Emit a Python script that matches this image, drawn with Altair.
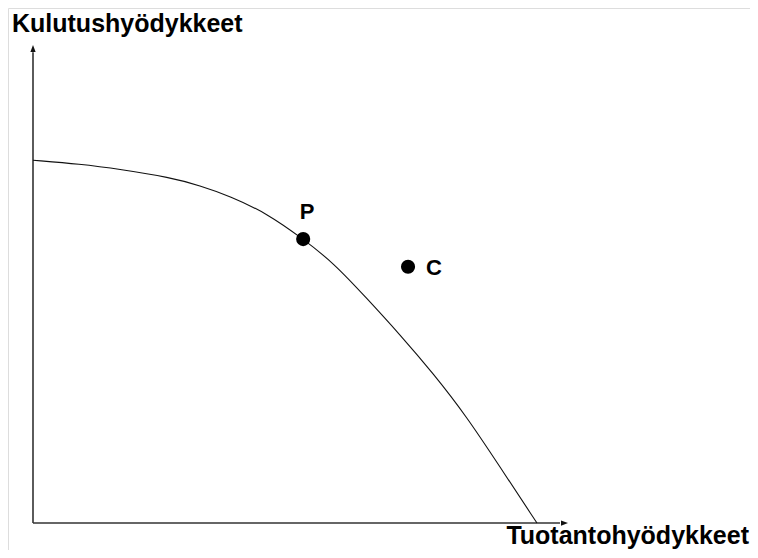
import altair as alt
import pandas as pd

# Production possibility frontier (data units 0..100 on both axes)
curve_x = [0, 8.8, 16.3, 25.6, 31.2, 36.8, 43.7, 50.5, 56.1, 62.4, 68.6, 74.8, 81.1, 87.3, 94.2]
curve_y = [75.9, 75.1, 74.0, 72.3, 70.6, 68.4, 64.8, 59.4, 54.5, 47.0, 39.4, 31.3, 22.2, 11.7, 0]

point_names = ["P", "C"]
point_x = [50.5, 70.1]
point_y = [59.4, 53.6]

axis_x_title = "Tuotantohyödykkeet"
axis_y_title = "Kulutushyödykkeet"
axis_end = 100

FONT = "Liberation Sans"

curve_df = pd.DataFrame({"x": curve_x, "y": curve_y})
pts_df = pd.DataFrame({"name": point_names, "x": point_x, "y": point_y})

xs = alt.Scale(domain=[0, 100], range=[25, 560])
ys = alt.Scale(domain=[0, 100], range=[515, 37])

X = lambda f="x": alt.X(f, type="quantitative", scale=xs, axis=None)
Y = lambda f="y": alt.Y(f, type="quantitative", scale=ys, axis=None)

# axes lines
axes_df = pd.DataFrame({
    "x": [0, 0], "y": [0, 0],
    "x2": [0, axis_end - 1.5], "y2": [axis_end - 1.5, 0],
})
axes_lines = alt.Chart(axes_df).mark_rule(color="#333333", strokeWidth=1.6).encode(
    x=X("x"), y=Y("y"), x2="x2", y2="y2"
)

up_df = pd.DataFrame({"x": [0], "y": [axis_end]})
right_df = pd.DataFrame({"x": [axis_end], "y": [0]})
up_arrow = alt.Chart(up_df).mark_point(
    shape="M0,0L0.75,2L-0.75,2Z", size=49, filled=True, color="#111111", opacity=1
).encode(x=X(), y=Y())
right_arrow = alt.Chart(right_df).mark_point(
    shape="M0,0L-2,-0.75L-2,0.75Z", size=49, filled=True, color="#111111", opacity=1
).encode(x=X(), y=Y())

curve = alt.Chart(curve_df).mark_line(
    color="#111111", strokeWidth=1.1, interpolate="basis"
).encode(x=X(), y=Y(), order="x:Q")

dots = alt.Chart(pts_df).mark_circle(size=200, color="black", opacity=1).encode(
    x=X(), y=Y()
)

p_label = alt.Chart(pts_df[pts_df.name == "P"]).mark_text(
    font=FONT, fontSize=22, fontWeight="bold", align="center",
    baseline="alphabetic", dx=4, dy=-20, color="black"
).encode(x=X(), y=Y(), text="name:N")

c_label = alt.Chart(pts_df[pts_df.name == "C"]).mark_text(
    font=FONT, fontSize=22, fontWeight="bold", align="left",
    baseline="middle", dx=18, dy=1, color="black"
).encode(x=X(), y=Y(), text="name:N")

title_df = pd.DataFrame({"t": [axis_y_title]})
title_y = alt.Chart(title_df).mark_text(
    font=FONT, fontSize=25, fontWeight="bold", align="left",
    baseline="alphabetic", color="black"
).encode(x=alt.value(4), y=alt.value(24), text="t:N")

title_df2 = pd.DataFrame({"t": [axis_x_title]})
title_x = alt.Chart(title_df2).mark_text(
    font=FONT, fontSize=25, fontWeight="bold", align="right",
    baseline="alphabetic", color="black"
).encode(x=alt.value(741), y=alt.value(536), text="t:N")

chart = alt.layer(
    axes_lines, up_arrow, right_arrow, curve, dots, p_label, c_label, title_y, title_x
).properties(
    width=742, height=542,
    autosize=alt.AutoSizeParams(type="none"),
    padding=0,
).configure_view(stroke="transparent", strokeWidth=0).configure(background="white")

chart.save("out.html", embed_options={"renderer": "svg", "actions": False})
